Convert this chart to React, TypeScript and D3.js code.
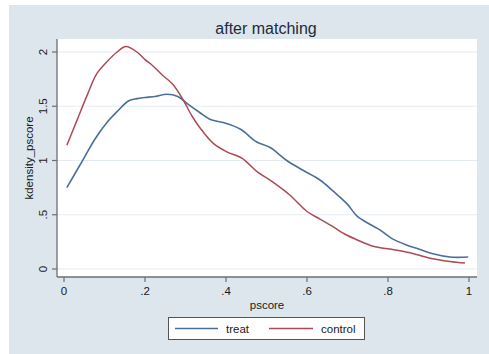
import React, { useEffect, useRef } from 'react';
import * as d3 from 'd3';

// kernel density estimates
const pscore = [0.007, 0.049, 0.077, 0.106, 0.131, 0.16, 0.18, 0.2, 0.225, 0.254, 0.281, 0.306, 0.336, 0.36, 0.393, 0.435, 0.476, 0.509, 0.55, 0.59, 0.632, 0.664, 0.699, 0.723, 0.756, 0.78, 0.81, 0.847, 0.879, 0.911, 0.953, 0.998];
const treat = [0.75, 1.02, 1.2, 1.35, 1.45, 1.55, 1.57, 1.58, 1.59, 1.61, 1.59, 1.52, 1.44, 1.38, 1.35, 1.29, 1.17, 1.12, 1.0, 0.91, 0.82, 0.72, 0.6, 0.49, 0.41, 0.36, 0.28, 0.22, 0.18, 0.14, 0.11, 0.11];

const pscoreC = [0.007, 0.032, 0.057, 0.081, 0.106, 0.131, 0.153, 0.18, 0.2, 0.217, 0.242, 0.269, 0.294, 0.316, 0.336, 0.368, 0.402, 0.44, 0.476, 0.516, 0.558, 0.6, 0.632, 0.664, 0.694, 0.723, 0.763, 0.812, 0.854, 0.904, 0.953, 0.99];
const control = [1.14, 1.37, 1.6, 1.8, 1.91, 2.0, 2.05, 2.0, 1.93, 1.88, 1.79, 1.7, 1.56, 1.41, 1.3, 1.16, 1.08, 1.02, 0.9, 0.8, 0.68, 0.53, 0.46, 0.39, 0.32, 0.27, 0.21, 0.18, 0.15, 0.1, 0.07, 0.055];

const xTicks = [0, 0.2, 0.4, 0.6, 0.8, 1];
const xTickLabels = ['0', '.2', '.4', '.6', '.8', '1'];
const yTicks = [0, 0.5, 1, 1.5, 2];
const yTickLabels = ['0', '.5', '1', '1.5', '2'];

const W = 489, H = 354;
const font = 'Liberation Sans, Arial, sans-serif';

export default function App() {
  const ref = useRef<SVGSVGElement>(null);

  useEffect(() => {
    const svg = d3.select(ref.current);
    svg.selectAll('*').remove();

    // background
    svg.append('rect').attr('width', W).attr('height', H).attr('fill', '#ffffff');
    svg.append('rect').attr('x', 9).attr('y', 5).attr('width', W - 9).attr('height', H - 5).attr('fill', '#dce6ec');

    const left = 57, right = 477, top = 39, bottom = 277;
    svg.append('rect').attr('x', left).attr('y', top).attr('width', right - left).attr('height', bottom - top).attr('fill', '#ffffff');

    const x = d3.scaleLinear().domain([0, 1]).range([64, 469]);
    const y = d3.scaleLinear().domain([0, 2]).range([269, 52]);

    // gridlines
    svg.append('g').selectAll('line').data(yTicks).join('line')
      .attr('x1', left).attr('x2', right)
      .attr('y1', d => y(d)).attr('y2', d => y(d))
      .attr('stroke', '#e4ecf1').attr('stroke-width', 1.2);

    // axes
    const axisCol = '#6b6f73';
    svg.append('line').attr('x1', left).attr('x2', left).attr('y1', top).attr('y2', bottom)
      .attr('stroke', axisCol).attr('stroke-width', 1.3);
    svg.append('line').attr('x1', left).attr('x2', right).attr('y1', bottom).attr('y2', bottom)
      .attr('stroke', axisCol).attr('stroke-width', 1.3);

    svg.append('g').selectAll('line').data(yTicks).join('line')
      .attr('x1', left - 5).attr('x2', left)
      .attr('y1', d => y(d)).attr('y2', d => y(d))
      .attr('stroke', axisCol).attr('stroke-width', 1.2);
    svg.append('g').selectAll('line').data(xTicks).join('line')
      .attr('x1', d => x(d)).attr('x2', d => x(d))
      .attr('y1', bottom).attr('y2', bottom + 5)
      .attr('stroke', axisCol).attr('stroke-width', 1.2);

    // tick labels
    svg.append('g').selectAll('text').data(yTicks).join('text')
      .attr('transform', d => `translate(47,${y(d)}) rotate(-90)`)
      .attr('text-anchor', 'middle')
      .attr('font-family', font).attr('font-size', 11.5).attr('fill', '#1a1a1a')
      .text((d, i) => yTickLabels[i]);
    svg.append('g').selectAll('text').data(xTicks).join('text')
      .attr('x', d => x(d)).attr('y', 295)
      .attr('text-anchor', 'middle')
      .attr('font-family', font).attr('font-size', 11.5).attr('fill', '#1a1a1a')
      .text((d, i) => xTickLabels[i]);

    // titles
    svg.append('text').attr('x', 266).attr('y', 34).attr('text-anchor', 'middle')
      .attr('font-family', font).attr('font-size', 16).attr('fill', '#1e2a3a')
      .text('after matching');
    svg.append('text').attr('x', 267).attr('y', 309).attr('text-anchor', 'middle')
      .attr('font-family', font).attr('font-size', 11.5).attr('fill', '#1a1a1a')
      .text('pscore');
    svg.append('text').attr('transform', `translate(33,158) rotate(-90)`).attr('text-anchor', 'middle')
      .attr('font-family', font).attr('font-size', 11.5).attr('fill', '#1a1a1a')
      .text('kdensity_pscore');

    // curves
    const line = d3.line<[number, number]>()
      .x(d => x(d[0])).y(d => y(d[1]))
      .curve(d3.curveCatmullRom);
    const treatColor = '#4a7099';
    const controlColor = '#ad4a55';
    svg.append('path').attr('d', line(pscore.map((p, i) => [p, treat[i]] as [number, number])))
      .attr('fill', 'none').attr('stroke', treatColor).attr('stroke-width', 1.6);
    svg.append('path').attr('d', line(pscoreC.map((p, i) => [p, control[i]] as [number, number])))
      .attr('fill', 'none').attr('stroke', controlColor).attr('stroke-width', 1.5);

    // legend
    const lg = svg.append('g');
    lg.append('rect').attr('x', 168.5).attr('y', 317.5).attr('width', 196).attr('height', 22)
      .attr('fill', '#ffffff').attr('stroke', '#555').attr('stroke-width', 1);
    lg.append('line').attr('x1', 175).attr('x2', 218).attr('y1', 328.5).attr('y2', 328.5)
      .attr('stroke', treatColor).attr('stroke-width', 1.6);
    lg.append('text').attr('x', 226).attr('y', 332.5)
      .attr('font-family', font).attr('font-size', 11.5).attr('fill', '#1a1a1a').text('treat');
    lg.append('line').attr('x1', 269).attr('x2', 313).attr('y1', 328.5).attr('y2', 328.5)
      .attr('stroke', controlColor).attr('stroke-width', 1.5);
    lg.append('text').attr('x', 321).attr('y', 332.5)
      .attr('font-family', font).attr('font-size', 11.5).attr('fill', '#1a1a1a').text('control');
  }, []);

  return (
    <svg ref={ref} width={W} height={H}
      style={{ position: 'absolute', left: 0, top: 0, display: 'block' }} />
  );
}
